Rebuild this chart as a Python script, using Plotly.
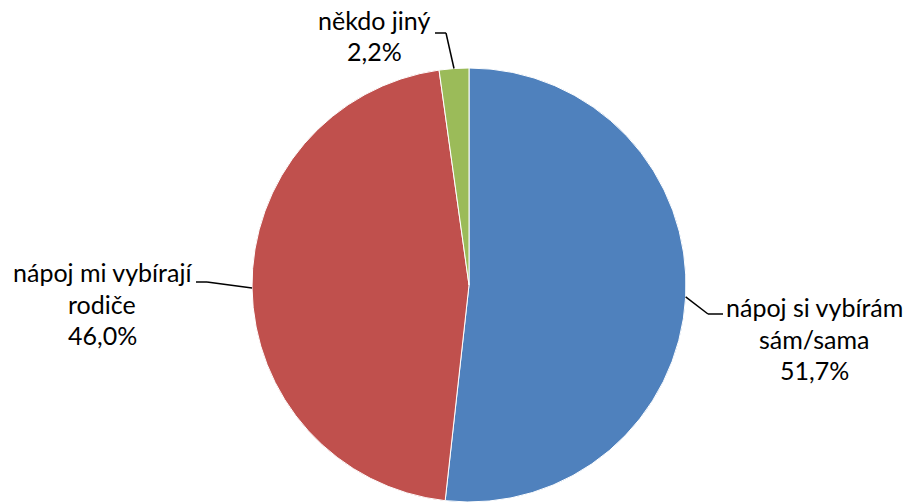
import math
import plotly.graph_objects as go

# ---- data ----
categories = ["nápoj si vybírám sám/sama", "nápoj mi vybírají rodiče", "někdo jiný"]
values = [51.7, 46.0, 2.2]
label_lines = [["nápoj si vybírám", "sám/sama", "51,7%"],
               ["nápoj mi vybírají", "rodiče", "46,0%"],
               ["někdo jiný", "2,2%"]]
colors = ["#4F81BD", "#C0504D", "#9BBB59"]

# ---- layout constants (pixels) ----
W, H = 908, 502
TOP = 68
R = (H - TOP) / 2.0
CX, CY = 469.0, TOP + R
FONT = "Lato"
FS = 25
LINE_H = 31.5

# label placement: (text x, anchor mode, first line center y, elbow point, end point)
label_place = [
    dict(x=814, xanchor="center", y0=307, elbow=(708, 314), end=(723, 314)),
    dict(x=102, xanchor="center", y0=272, elbow=(207, 282), end=(196, 282)),
    dict(x=374, xanchor="center", y0=20, elbow=(446, 33), end=(435, 33)),
]

def px_to_paper(px, py):
    return px / W, (H - py) / (H - TOP)

fig = go.Figure(go.Pie(
    labels=categories, values=values, sort=False, direction="clockwise",
    rotation=0, marker=dict(colors=colors, line=dict(color="white", width=1)),
    textinfo="none", hoverinfo="label+percent", showlegend=False,
    domain=dict(x=[(CX - R) / W, (CX + R) / W], y=[0, 1]),
))

total = sum(values)
cum = 0.0
annotations = []
shapes = []
for v, lines, lp in zip(values, label_lines, label_place):
    mid = (cum + v / 2) / total * 360.0
    cum += v
    ang = math.radians(90 - mid)
    ax_, ay_ = CX + R * math.cos(ang), CY - R * math.sin(ang)
    pts = [(ax_, ay_), lp["elbow"], lp["end"]]
    for (x1, y1), (x2, y2) in zip(pts[:-1], pts[1:]):
        p1 = px_to_paper(x1, y1)
        p2 = px_to_paper(x2, y2)
        shapes.append(dict(type="line", xref="paper", yref="paper",
                           x0=p1[0], y0=p1[1], x1=p2[0], y1=p2[1],
                           line=dict(color="black", width=1.5)))
    for i, t in enumerate(lines):
        cy = lp["y0"] + i * LINE_H
        xp, yp = px_to_paper(lp["x"], cy)
        annotations.append(dict(text=t, x=xp, y=yp, xref="paper", yref="paper",
                                xanchor=lp["xanchor"], yanchor="middle",
                                showarrow=False,
                                font=dict(family=FONT, size=FS, color="black")))

fig.update_layout(
    width=W, height=H, margin=dict(l=0, r=0, t=TOP, b=0),
    paper_bgcolor="white", plot_bgcolor="white",
    annotations=annotations, shapes=shapes,
)
fig.write_html("out.html")
